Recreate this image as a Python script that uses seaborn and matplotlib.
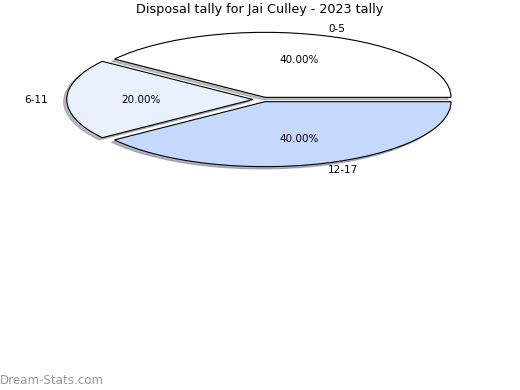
import matplotlib
matplotlib.use("Agg")
import matplotlib.pyplot as plt
import seaborn as sns

categories = ["0-5", "6-11", "12-17"]
values = [40, 20, 40]
colors = ["#ffffff", "#e9f0fe", "#c5d9fd"]
title = "Disposal tally for Jai Culley - 2023 tally"

sns.set_theme(style="white")
plt.rcParams['font.family'] = ['DejaVu Sans']

fig = plt.figure(figsize=(5.2, 3.9), dpi=100)
rx, ry = 186, 65
cx, cy = 263, 99.5
ax = fig.add_axes([(cx - rx) / 520, (390 - cy - ry) / 390, 2 * rx / 520, 2 * ry / 390])

wedges, texts, autotexts = ax.pie(
    values, labels=categories, colors=colors, explode=[0.035, 0.055, 0.035],
    autopct="%.2f%%", pctdistance=0.6, labeldistance=1.1, startangle=0,
    counterclock=True, shadow={"ox": -0.012, "oy": -0.025, "shade": 0.5},
    wedgeprops=dict(edgecolor="black", linewidth=0.8),
    textprops=dict(fontsize=7.5, color="black"),
)
ax.set_aspect("auto")
ax.set_xlim(-1, 1)
ax.set_ylim(-1, 1)
ax.axis("off")

fig.text(0.5, 1 - 10 / 390, title, ha="center", va="center", fontsize=9.2, color="black")
fig.text(0.0, 1 - 380 / 390, "Dream-Stats.com", ha="left", va="center", fontsize=8.6,
         color="#999999")

fig.savefig("out.png", dpi=100, facecolor="white")
